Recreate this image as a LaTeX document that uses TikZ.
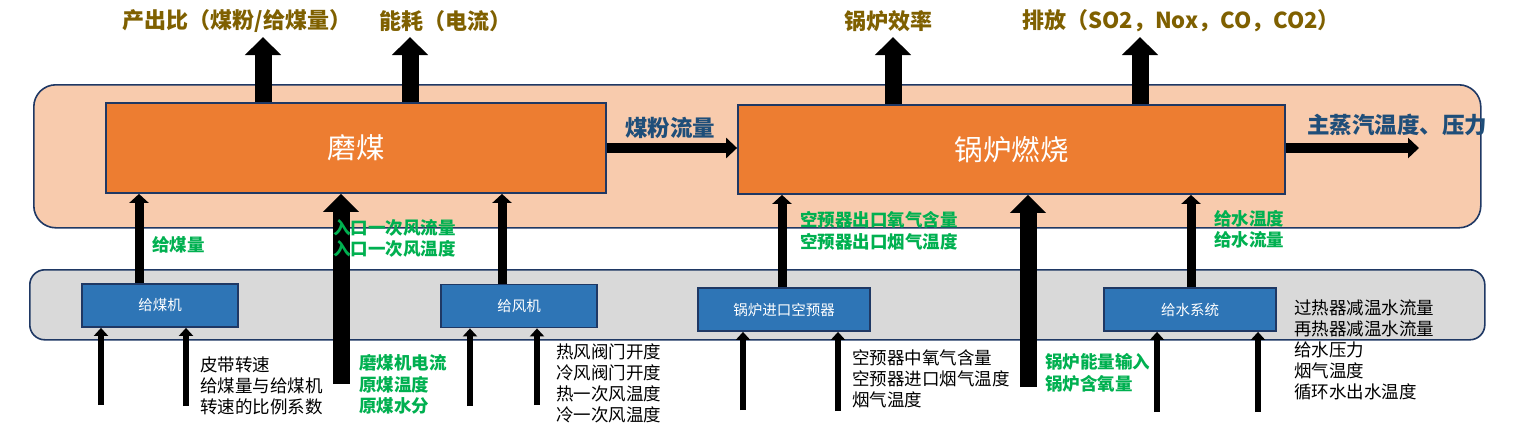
\documentclass[tikz,border=0pt]{standalone}
\usepackage{fontspec}
\setmainfont{Noto Sans CJK SC}
\usetikzlibrary{arrows.meta}
\definecolor{peach}{HTML}{F8CBAD}
\definecolor{grayfill}{HTML}{D9D9D9}
\definecolor{orangefill}{HTML}{ED7D31}
\definecolor{bluefill}{HTML}{2E75B6}
\definecolor{navy}{HTML}{1F3864}
\definecolor{brownt}{HTML}{7F6000}
\definecolor{greent}{HTML}{00B050}
\definecolor{bluet}{HTML}{1F4E79}
\tikzset{
  grp/.style={draw=navy, line width=1.6pt, inner sep=0pt, anchor=north west},
  obox/.style={draw=navy, line width=1.8pt, fill=orangefill, inner sep=0pt, text=white,
    font=\fontsize{28.5}{30}\selectfont},
  bbox/.style={draw=navy, line width=1.8pt, fill=bluefill, inner sep=0pt, text=white,
    font=\fontsize{14.5}{16}\selectfont},
  bigarrow/.style={line width=17pt, -{Triangle[width=35pt,length=18pt]}},
  midarrow/.style={line width=9pt, -{Triangle[width=19pt,length=9pt]}},
  flowarrow/.style={line width=10pt, -{Triangle[width=20pt,length=11pt]}},
  smallarrow/.style={line width=6pt, -{Triangle[width=14pt,length=8pt]}},
  toplabel/.style={text=brownt, font=\fontsize{22}{24}\selectfont\bfseries, inner sep=0pt},
  flowlabel/.style={text=bluet, font=\fontsize{22.5}{24}\selectfont\bfseries, inner sep=0pt},
  greenlabel/.style={text=greent, font=\fontsize{17.5}{21.5}\selectfont\bfseries, inner sep=0pt, align=left, anchor=west},
  blacklabel/.style={text=black, font=\fontsize{17.5}{21.2}\selectfont, inner sep=0pt, align=left, anchor=west},
}
\begin{document}
\begin{tikzpicture}[x=1pt,y=-1pt]
\useasboundingbox (0,0) rectangle (1534,429);
% containers
\node[grp, fill=peach, rounded corners=22pt, minimum width=1447pt, minimum height=143pt] (upper) at (33,84) {};
\node[grp, fill=grayfill, rounded corners=15pt, minimum width=1455pt, minimum height=70pt] (lower) at (29,269) {};
% main boxes
\node[obox, minimum width=500pt, minimum height=90pt] (mm) at (356,148) {磨煤};
\node[obox, minimum width=547pt, minimum height=89pt] (gl) at (1011.5,149.5) {锅炉燃烧};
\node[bbox, minimum width=156pt, minimum height=43pt] (gmj) at (160,305.5) {给煤机};
\node[bbox, minimum width=156pt, minimum height=43pt] (gfj) at (519,306) {给风机};
\node[bbox, minimum width=172pt, minimum height=43pt] (kyq) at (784,309.5) {锅炉进口空预器};
\node[bbox, minimum width=172pt, minimum height=43pt] (gs) at (1190,309.5) {给水系统};
% top outputs
\coordinate (t1) at (263,37);
\coordinate (t2) at (410,37);
\coordinate (t3) at (893,37);
\coordinate (t4) at (1140,37);
\draw[bigarrow] (t1 |- mm.north) -- (t1);
\draw[bigarrow] (t2 |- mm.north) -- (t2);
\draw[bigarrow] (t3 |- gl.north) -- (t3);
\draw[bigarrow] (t4 |- gl.north) -- (t4);
\node[toplabel] (l1) at (237,21) {产出比（煤粉/给煤量）};
\node[toplabel] (l2) at (445,21) {能耗（电流）};
\node[toplabel] (l3) at (888,21) {锅炉效率};
\node[toplabel] (l4) at (1181,21) {排放（SO2，Nox，CO，CO2）};
% flows
\coordinate (ms) at (1419,148);
\draw[flowarrow] (mm.east |- 0,148) -- (gl.west |- 0,148);
\draw[flowarrow] (gl.east |- ms) -- (ms);
\node[flowlabel] (f1) at (670,128) {煤粉流量};
\node[flowlabel, anchor=west] (f2) at (1307,125) {主蒸汽温度、压力};
% arrows from equipment to process
\coordinate (m1) at (139,0);
\coordinate (m2) at (502,0);
\coordinate (m3) at (782,0);
\coordinate (m4) at (1191,0);
\draw[midarrow] (m1 |- gmj.north) -- (m1 |- mm.south);
\draw[midarrow] (m2 |- gfj.north) -- (m2 |- mm.south);
\draw[midarrow] (m3 |- kyq.north) -- (m3 |- gl.south);
\draw[midarrow] (m4 |- gs.north) -- (m4 |- gl.south);
% big direct inputs
\coordinate (c1) at (341,384);
\coordinate (c2) at (1028,387);
\draw[bigarrow] (c1) -- (c1 |- mm.south);
\draw[bigarrow] (c2) -- (c2 |- gl.south);
% small inputs
\coordinate (b1) at (101,405);
\coordinate (b2) at (186,406);
\coordinate (b3) at (470,406);
\coordinate (b4) at (537,405);
\coordinate (b5) at (743,410);
\coordinate (b6) at (838,411);
\coordinate (b7) at (1157,412);
\coordinate (b8) at (1258,412);
\draw[smallarrow] (b1) -- (b1 |- gmj.south);
\draw[smallarrow] (b2) -- (b2 |- gmj.south);
\draw[smallarrow] (b3) -- (b3 |- gfj.south);
\draw[smallarrow] (b4) -- (b4 |- gfj.south);
\draw[smallarrow] (b5) -- (b5 |- kyq.south);
\draw[smallarrow] (b6) -- (b6 |- kyq.south);
\draw[smallarrow] (b7) -- (b7 |- gs.south);
\draw[smallarrow] (b8) -- (b8 |- gs.south);
% green labels
\node[greenlabel] (g1) at (152,245) {给煤量};
\node[greenlabel] (g2) at (333,238.5) {入口一次风流量\\入口一次风温度};
\node[greenlabel] (g3) at (800,231) {空预器出口氧气含量\\空预器出口烟气温度};
\node[greenlabel] (g4) at (1214,229.5) {给水温度\\给水流量};
\node[greenlabel] (g5) at (359,384.5) {磨煤机电流\\原煤温度\\原煤水分};
\node[greenlabel] (g6) at (1045,373) {锅炉能量输入\\锅炉含氧量};
% black labels
\node[blacklabel] (k1) at (200,386) {皮带转速\\给煤量与给煤机\\转速的比例系数};
\node[blacklabel] (k2) at (556,383.5) {热风阀门开度\\冷风阀门开度\\热一次风温度\\冷一次风温度};
\node[blacklabel] (k3) at (852,379) {空预器中氧气含量\\空预器进口烟气温度\\烟气温度};
\node[blacklabel] (k4) at (1294,350) {过热器减温水流量\\再热器减温水流量\\给水压力\\烟气温度\\循环水出水温度};
\end{tikzpicture}
\end{document}
